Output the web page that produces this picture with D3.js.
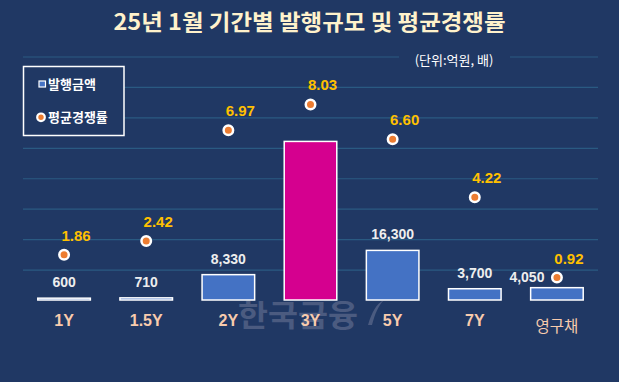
<!DOCTYPE html>
<html><head><meta charset="utf-8">
<script src="https://cdn.jsdelivr.net/npm/d3@7"></script>
<style>html,body{margin:0;padding:0;background:#203864;}svg{display:block;}</style>
</head><body>
<svg id="c" width="619" height="382"></svg>
<script>
const categories = ["1Y", "1.5Y", "2Y", "3Y", "5Y", "7Y", "영구채"];
const amounts = [600, 710, 8330, 52100, 16300, 3700, 4050];
const amountLabels = ["600", "710", "8,330", "", "16,300", "3,700", "4,050"];
const rates = [1.86, 2.42, 6.97, 8.03, 6.60, 4.22, 0.92];
const rateLabels = ["1.86", "2.42", "6.97", "8.03", "6.60", "4.22", "0.92"];
const leftTicks = [10000, 20000, 30000, 40000, 50000, 60000, 70000, 80000];
const highlight = "3Y";

const svg = d3.select("#c");
const W = 619, H = 382;
const BG = "#203864";
svg.append("rect").attr("width", W).attr("height", H).attr("fill", BG);

const x = d3.scaleBand().domain(categories).range([23, 598]).paddingInner(0.36).paddingOuter(0.18);
const y = d3.scaleLinear().domain([0, 80000]).range([300, 56.5]);
const y2 = d3.scaleLinear().domain([0, 10]).range([300, 56.5]);

// gridlines
const grid = d3.axisLeft(y).tickValues(leftTicks).tickSize(-(598 - 23)).tickFormat("");
const gg = svg.append("g").attr("transform", "translate(23,0)").call(grid);
gg.select(".domain").remove();
gg.selectAll(".tick line").attr("stroke", "#2a5a82").attr("stroke-width", 1.2);

// gap behind unit text
svg.append("rect").attr("x", 399).attr("y", 50).attr("width", 111).attr("height", 16).attr("fill", BG);
svg.append("text").attr("x", 454).attr("y", 65).attr("text-anchor", "middle")
  .attr("font-family", "'Noto Sans CJK KR', sans-serif").attr("font-size", 13).attr("fill", "#ffffff")
  .text("(단위:억원, 배)");

// title
svg.append("text").attr("x", 309.5).attr("y", 30).attr("text-anchor", "middle")
  .attr("font-family", "'Noto Sans CJK KR', sans-serif").attr("font-weight", "bold").attr("font-size", 22)
  .attr("fill", "#fff2cc").attr("textLength", 392).attr("lengthAdjust", "spacingAndGlyphs")
  .text("25년 1월 기간별 발행규모 및 평균경쟁률");

// watermark
const wm = svg.append("g");
wm.append("text").attr("x", 298).attr("y", 326).attr("text-anchor", "middle")
  .attr("font-family", "'Noto Sans CJK KR', sans-serif").attr("font-weight", "bold").attr("font-size", 30)
  .attr("fill", "#4b5b80").attr("textLength", 120).attr("lengthAdjust", "spacingAndGlyphs").text("한국금융");
wm.append("path").attr("d", "M368,325 C372,312 376,304 384,300 C378,306 375,314 372,325 Z").attr("fill", "#4b5b80");

// bars
svg.append("g").selectAll("rect").data(categories).join("rect")
  .attr("x", d => x(d)).attr("width", x.bandwidth())
  .attr("y", (d, i) => y(amounts[i])).attr("height", (d, i) => y(0) - y(amounts[i]))
  .attr("fill", d => d === highlight ? "#d5008f" : "#4472c4")
  .attr("stroke", "#ffffff").attr("stroke-width", 1.5);

// bar labels
svg.append("g").selectAll("text").data(categories).join("text")
  .attr("x", (d, i) => x(d) + x.bandwidth() / 2 + (i === categories.length - 1 ? -30 : 0))
  .attr("y", (d, i) => y(amounts[i]) - 11 + (i === categories.length - 1 ? 5.5 : 0))
  .attr("text-anchor", "middle")
  .attr("font-family", "'Liberation Sans', Arial, sans-serif").attr("font-weight", "bold").attr("font-size", 14)
  .attr("fill", "#eeeeee").text((d, i) => amountLabels[i]);

// rate dots
const cx = d => x(d) + x.bandwidth() / 2;
svg.append("g").selectAll("circle").data(categories).join("circle")
  .attr("cx", cx).attr("cy", (d, i) => y2(rates[i])).attr("r", 4.75)
  .attr("fill", "#ed7d31").attr("stroke", "#ffffff").attr("stroke-width", 2.5);

svg.append("g").selectAll("text").data(categories).join("text")
  .attr("x", d => cx(d) + 12).attr("y", (d, i) => y2(rates[i]) - 14)
  .attr("text-anchor", "middle")
  .attr("font-family", "'Liberation Sans', Arial, sans-serif").attr("font-weight", "bold").attr("font-size", 15)
  .attr("fill", "#ffc000").text((d, i) => rateLabels[i]);

// category axis
const xa = d3.axisBottom(x).tickSize(0).tickPadding(0);
const xg = svg.append("g").attr("transform", "translate(0,300)").call(xa);
xg.select(".domain").remove();
xg.selectAll(".tick text")
  .attr("y", d => /[가-힣]/.test(d) ? 32 : 25.5).attr("dy", 0)
  .attr("font-family", d => /[가-힣]/.test(d) ? "'Noto Sans CJK KR', sans-serif" : "'Liberation Sans', Arial, sans-serif")
  .attr("font-weight", d => /[가-힣]/.test(d) ? "normal" : "bold")
  .attr("font-size", d => /[가-힣]/.test(d) ? 15.5 : 16)
  .attr("fill", "#f8cbad");

// legend
const lg = svg.append("g");
lg.append("rect").attr("x", 23.5).attr("y", 66.5).attr("width", 100.5).attr("height", 69)
  .attr("fill", BG).attr("stroke", "#ffffff").attr("stroke-width", 1.5);
lg.append("rect").attr("x", 39).attr("y", 81).attr("width", 6.5).attr("height", 6)
  .attr("fill", "#4472c4").attr("stroke", "#ffffff").attr("stroke-width", 1.2);
lg.append("text").attr("x", 48).attr("y", 89).attr("font-family", "'Noto Sans CJK KR', sans-serif")
  .attr("font-weight", "bold").attr("font-size", 13).attr("fill", "#ffffff").text("발행금액");
lg.append("circle").attr("cx", 41).attr("cy", 117.3).attr("r", 3.8)
  .attr("fill", "#ed7d31").attr("stroke", "#ffffff").attr("stroke-width", 2.2);
lg.append("text").attr("x", 48).attr("y", 122).attr("font-family", "'Noto Sans CJK KR', sans-serif")
  .attr("font-weight", "bold").attr("font-size", 13).attr("fill", "#ffffff").text("평균경쟁률");
</script>
</body></html>
